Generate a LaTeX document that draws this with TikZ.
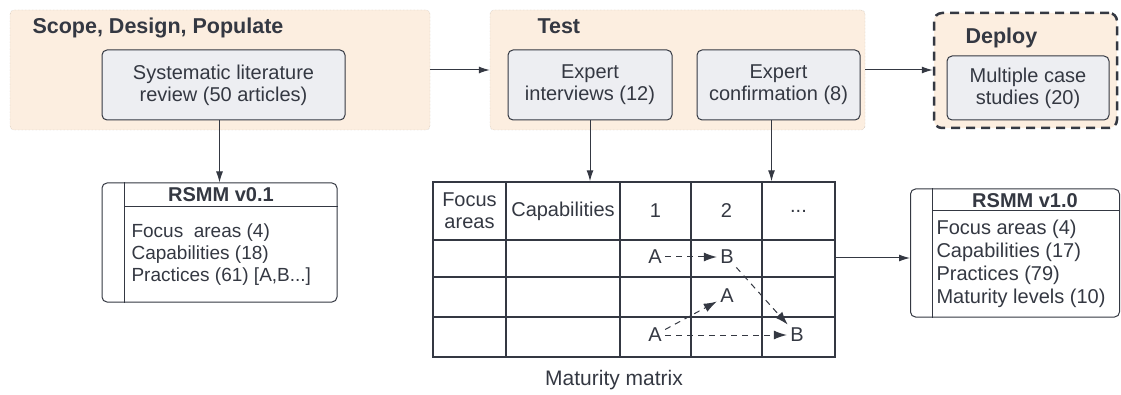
\documentclass[tikz,border=0pt]{standalone}
\usepackage{fontspec}
\setmainfont{Liberation Sans}
\definecolor{phaseColor}{RGB}{252,238,224}
\definecolor{boxColor}{RGB}{237,238,242}
\definecolor{lineColor}{RGB}{52,56,66}
\definecolor{dotColor}{RGB}{180,170,160}
\usetikzlibrary{arrows.meta, positioning, calc}
\tikzstyle{phase} = [rectangle, rounded corners=4pt, draw=dotColor, densely dotted, fill=phaseColor]
\tikzstyle{phasetitle} = [anchor=west, text=lineColor, font=\fontsize{21.5}{25}\selectfont\bfseries]
\tikzstyle{activity} = [rectangle, rounded corners=5pt, draw=lineColor, line width=1pt, fill=boxColor, align=center, text=lineColor, font=\fontsize{20}{22}\selectfont]
\tikzstyle{model} = [rectangle, rounded corners=5pt, draw=lineColor, line width=1pt, fill=white]
\tikzstyle{modeltitle} = [text=lineColor, font=\fontsize{20}{22}\selectfont\bfseries]
\tikzstyle{modelbody} = [anchor=north west, align=left, text=lineColor, font=\fontsize{20}{23}\selectfont]
\tikzstyle{cell} = [align=center, text=lineColor, font=\fontsize{20}{22}\selectfont]
\tikzstyle{grid} = [draw=lineColor, line width=1.4pt]
\tikzstyle{flow} = [-{Latex[length=11pt,width=7pt]}, draw=lineColor, line width=1pt]
\tikzstyle{mflow} = [flow, dashed, dash pattern=on 6pt off 5pt, -{Latex[length=13pt,width=9pt]}]

\begin{document}
\begin{tikzpicture}[x=1pt, y=-1pt]
\useasboundingbox (0,0) rectangle (1121,395);

% phases
\node (scope) [phase, minimum width=420pt, minimum height=120pt] at (220,70) {};
\node (scopetitle) [phasetitle] at (29,28) {Scope, Design, Populate};
\node (slr) [activity, minimum width=243pt, minimum height=70pt] at (223.5,85) {Systematic literature\\review (50 articles)};

\node (test) [phase, minimum width=375pt, minimum height=120pt] at (677.5,70) {};
\node (testtitle) [phasetitle] at (534,26) {Test};
\node (interviews) [activity, minimum width=164pt, minimum height=70pt] at (590,85) {Expert\\interviews (12)};
\node (confirm) [activity, minimum width=163pt, minimum height=70pt] at (778.5,85) {Expert\\confirmation (8)};

\node (deploy) [phase, draw=lineColor, solid, line width=2.5pt, dash pattern=on 9pt off 6pt, rounded corners=8pt, minimum width=183pt, minimum height=115pt] at (1025.5,70.5) {};
\node (deploytitle) [phasetitle] at (962,38) {Deploy};
\node (cases) [activity, minimum width=162pt, minimum height=64pt] at (1028,88) {Multiple case\\studies (20)};

\draw[flow] (scope.east) -- (test.west);
\draw[flow] (test.east) -- (test.east -| deploy.west);

% RSMM v0.1
\node (v01) [model, minimum width=235pt, minimum height=119pt] at (219.5,242.5) {};
\draw[lineColor, line width=1pt] ($(v01.north west)+(23,0)$) -- ($(v01.south west)+(23,0)$);
\draw[lineColor, line width=1pt] ($(v01.north west)+(23,24)$) -- ($(v01.north east)+(0,24)$);
\node (v01title) [modeltitle] at (221,195) {RSMM v0.1};
\node (v01body) [modelbody, font=\fontsize{19}{22}\selectfont] at (128,220) {Focus\ \ areas (4)\\Capabilities (18)\\Practices (61) [A,B...]};
\draw[flow] (v01.north |- slr.south) -- (v01.north);

% maturity matrix
\node (mat) [rectangle, grid, minimum width=402pt, minimum height=175pt] at (634,269.5) {};
\foreach \x in {506,620,691,762}
  \draw[grid] (\x,182) -- (\x,357);
\foreach \y in {240,277,317}
  \draw[grid] (433,\y) -- (835,\y);
\node (hfocus) [cell] at (469.5,211) {Focus\\areas};
\node (hcap) [cell] at (563,211) {Capabilities};
\node (hone) [cell] at (655.5,211) {1};
\node (htwo) [cell] at (726.5,211) {2};
\node (hmore) [cell] at (798.5,211) {...};
\node (aone) [cell] at (655,257) {A};
\node (bone) [cell] at (727,257) {B};
\node (atwo) [cell] at (727,296) {A};
\node (athree) [cell] at (655,335) {A};
\node (bthree) [cell] at (797,335) {B};
\node (matlabel) [cell, font=\fontsize{21}{22}\selectfont] at (614,380) {Maturity matrix};
\draw[mflow] (aone) -- (bone);
\draw[mflow] (athree) -- (atwo);
\draw[mflow] (athree) -- (bthree);
\draw[mflow] (bone) -- (bthree);
\draw[flow] (interviews.south) -- (interviews.south |- mat.north);
\draw[flow] ($(confirm.south)+(-7,0)$) -- ($(confirm.south |- mat.north)+(-7,0)$);

% RSMM v1.0
\node (v10) [model, minimum width=209pt, minimum height=128pt] at (1015,253) {};
\draw[lineColor, line width=1pt] ($(v10.north west)+(22,0)$) -- ($(v10.south west)+(22,0)$);
\draw[lineColor, line width=1pt] ($(v10.north west)+(22,22)$) -- ($(v10.north east)+(0,22)$);
\node (v10title) [modeltitle] at (1025,201) {RSMM v1.0};
\node (v10body) [modelbody] at (933,216) {Focus areas (4)\\Capabilities (17)\\Practices (79)\\Maturity levels (10)};
\coordinate (link) at (0,258);
\draw[flow] (mat.east |- link) -- (v10.west |- link);
\end{tikzpicture}
\end{document}
